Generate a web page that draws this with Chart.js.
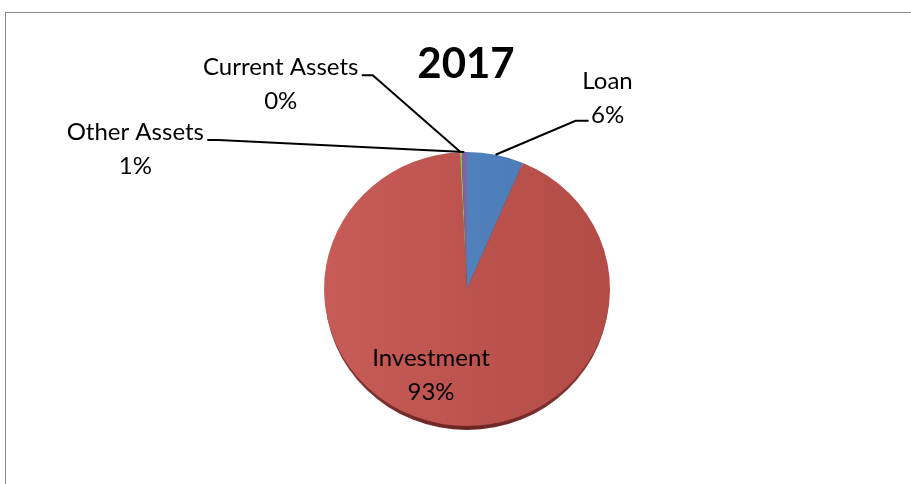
<!DOCTYPE html>
<html>
<head>
<meta charset="utf-8">
<script src="https://cdn.jsdelivr.net/npm/chart.js@4.4.1/dist/chart.umd.min.js"></script>
<style>
  html, body { margin: 0; padding: 0; background: #fff; overflow: hidden; }
  #wrap { position: relative; width: 911px; height: 484px; }
  #frame { position: absolute; left: 5px; top: 12px; width: 1000px; height: 1000px; border: 1px solid #8c8c8c; box-sizing: border-box; }
  canvas { position: absolute; left: 0; top: 0; }
</style>
</head>
<body>
<div id="wrap">
  <div id="frame"></div>
  <canvas id="c" width="911" height="484"></canvas>
</div>
<script>
// Asset composition, 2017 (percent of total)
const categories = ['Loan', 'Investment', 'Current Assets', 'Other Assets'];
const shares = [6.4, 92.8, 0.2, 0.6];
const chartTitle = '2017';

const lightColors = ['#5a8bc6', '#c75b57', '#a6c465', '#8b70ad'];
const darkColors = ['#4677b2', '#b34b47', '#8faf50', '#755a97'];

const TILT = 0.958;          // vertical squash of the pie face
const RIM = 4;               // depth of the pie edge
const FONT = 'Lato, "Open Sans", sans-serif';

// where each outside label sits, relative to the slice's outer edge point
const labelStyle = {
  'Loan':           { dx: 112, dy: -57, elbow: [80, -34], tail: [93, -34], inside: false },
  'Current Assets': { dx: -180, dy: -68, elbow: [-88, -77], tail: [-99, -77], inside: false },
  'Other Assets':   { dx: -329, dy: -3, elbow: [-246, -12], tail: [-257, -12], inside: false },
  'Investment':     { inside: true, ix: 431, iy: 375 }
};

function pieGradient(ctx, i) {
  const area = ctx.chart.chartArea;
  if (!area) return lightColors[i];
  const cx = (area.left + area.right) / 2;
  const g = ctx.chart.ctx.createLinearGradient(cx - 143, 0, cx + 143, 0);
  g.addColorStop(0, lightColors[i]);
  g.addColorStop(1, darkColors[i]);
  return g;
}

const tiltPlugin = {
  id: 'tilt',
  beforeDatasetsDraw(chart) {
    const meta = chart.getDatasetMeta(0);
    const a = meta.data[0];
    if (!a) return;
    const ctx = chart.ctx;
    const cx = a.x, cy = a.y, r = a.outerRadius;
    // edge of the disc, drawn below the face
    ctx.save();
    const g = ctx.createLinearGradient(cx - r, 0, cx + r, 0);
    g.addColorStop(0, '#843633');
    g.addColorStop(0.5, '#6a2523');
    g.addColorStop(1, '#843633');
    ctx.fillStyle = g;
    ctx.beginPath();
    ctx.ellipse(cx, cy + RIM, r - 1, r * TILT, 0, 0, Math.PI * 2);
    ctx.fill();
    ctx.restore();
    ctx.save();
    ctx.translate(cx, cy);
    ctx.scale(1, TILT);
    ctx.translate(-cx, -cy);
  },
  afterDatasetsDraw(chart) {
    chart.ctx.restore();
  }
};

const labelPlugin = {
  id: 'sliceLabels',
  afterDatasetsDraw(chart) {
    const ctx = chart.ctx;
    const meta = chart.getDatasetMeta(0);
    const data = chart.data.datasets[0].data;
    const total = data.reduce((s, v) => s + v, 0);
    ctx.save();
    // heading
    ctx.font = 'bold 42px ' + FONT;
    ctx.fillStyle = '#000';
    ctx.textAlign = 'center';
    ctx.textBaseline = 'middle';
    ctx.fillText(chartTitle, 466, 64);

    ctx.font = '24px ' + FONT;
    meta.data.forEach((arc, i) => {
      const name = chart.data.labels[i];
      const pct = Math.round(data[i] / total * 100) + '%';
      const st = labelStyle[name];
      if (st.inside) {
        ctx.fillText(name, st.ix, st.iy - 17);
        ctx.fillText(pct, st.ix, st.iy + 17);
        return;
      }
      const mid = (arc.startAngle + arc.endAngle) / 2;
      const ex = arc.x + arc.outerRadius * Math.cos(mid);
      const ey = arc.y + arc.outerRadius * Math.sin(mid) * TILT;
      ctx.strokeStyle = '#000';
      ctx.lineWidth = 2;
      ctx.beginPath();
      ctx.moveTo(ex, ey);
      ctx.lineTo(ex + st.elbow[0], ey + st.elbow[1]);
      ctx.lineTo(ex + st.tail[0], ey + st.tail[1]);
      ctx.stroke();
      ctx.fillText(name, ex + st.dx, ey + st.dy - 17);
      ctx.fillText(pct, ex + st.dx, ey + st.dy + 17);
    });
    ctx.restore();
  }
};

new Chart(document.getElementById('c'), {
  type: 'pie',
  data: {
    labels: categories,
    datasets: [{
      data: shares,
      backgroundColor: (ctx) => pieGradient(ctx, ctx.dataIndex),
      borderWidth: 0
    }]
  },
  options: {
    responsive: false,
    animation: false,
    layout: { padding: { top: 146, bottom: 52, left: 100, right: 77 } },
    plugins: {
      legend: { display: false },
      tooltip: { enabled: false },
      title: { display: false }
    }
  },
  plugins: [tiltPlugin, labelPlugin]
});
</script>
</body>
</html>
